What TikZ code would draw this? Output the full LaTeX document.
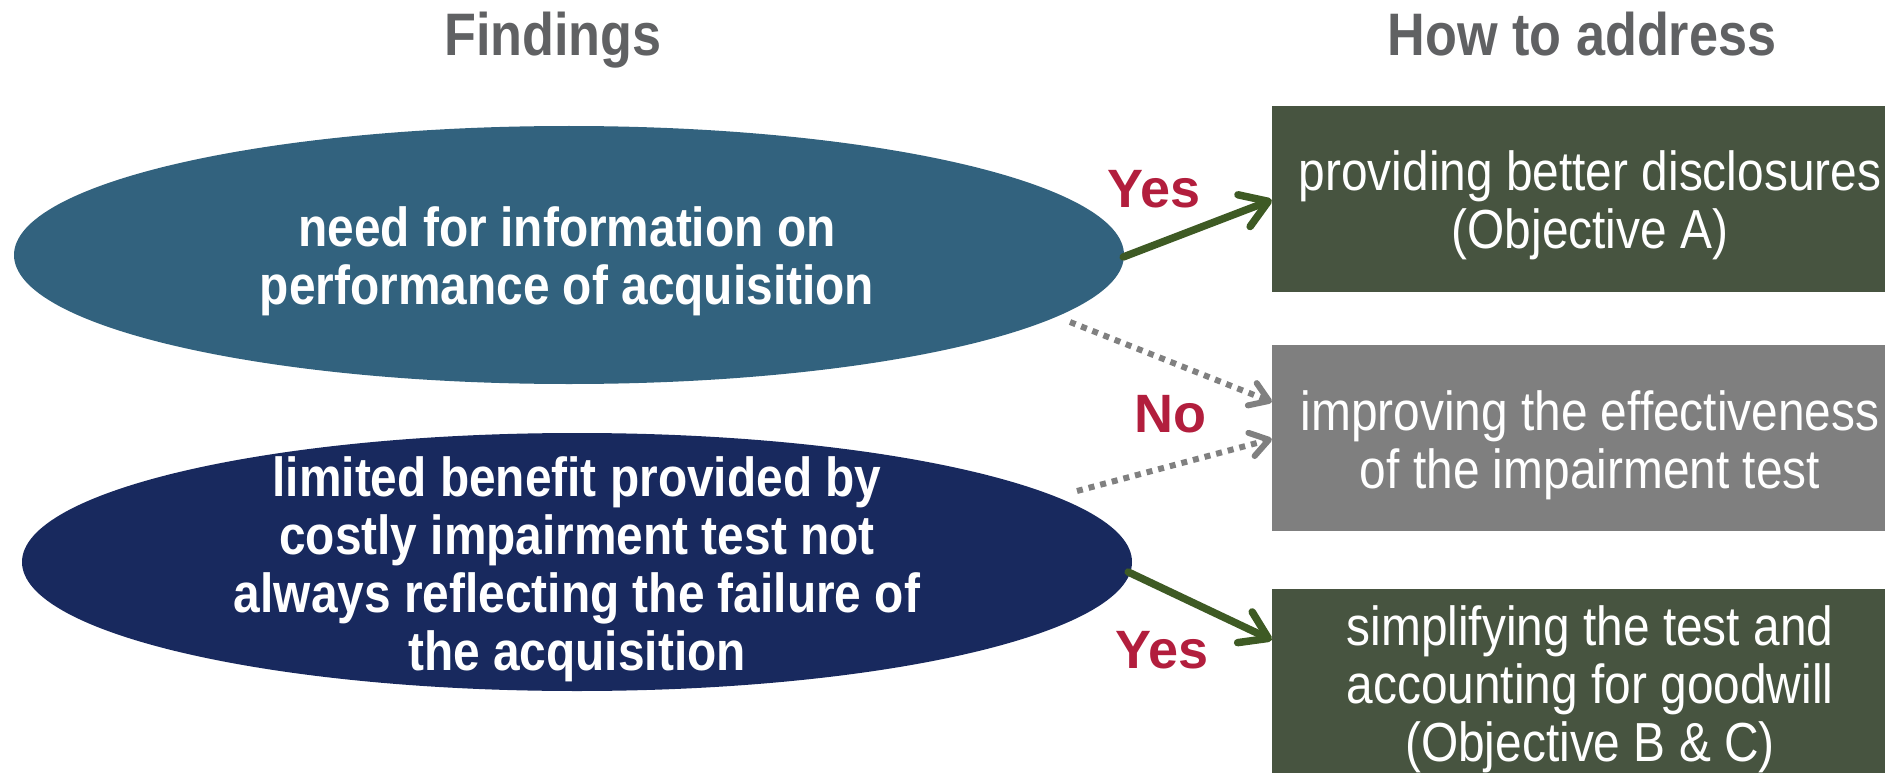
\documentclass[tikz,border=0pt]{standalone}
\usepackage{fontspec}
\setmainfont[FakeStretch=0.87]{Liberation Sans}
\newfontfamily\labfont{Liberation Sans}
\usetikzlibrary{shapes.geometric,arrows.meta,calc}
\definecolor{ellA}{HTML}{32627E}
\definecolor{ellB}{HTML}{18295E}
\definecolor{boxG}{HTML}{475440}
\definecolor{boxY}{HTML}{7F7F7F}
\definecolor{arrG}{HTML}{3E5A24}
\definecolor{arrY}{HTML}{808080}
\definecolor{labR}{HTML}{B21E3D}
\definecolor{headY}{HTML}{606163}
\begin{document}
\begin{tikzpicture}[x=1pt,y=-1pt,
  ellnode/.style={ellipse, inner sep=0pt, minimum width=1110pt, minimum height=258pt, draw=none},
  boxnode/.style={rectangle, inner sep=0pt, minimum width=636pt, minimum height=186pt},
  btext/.style={text=white, align=center, font=\fontsize{55}{58}\selectfont},
  etext/.style={text=white, align=center, font=\fontsize{55}{58}\selectfont\bfseries},
  headtext/.style={text=headY, anchor=base, font=\fontsize{60}{72}\selectfont\bfseries},
  labtext/.style={text=labR, anchor=base, font=\labfont\fontsize{54}{60}\selectfont\bfseries},
  garrow/.style={draw=arrG, line width=7.5pt, line cap=round,
    -{Straight Barb[length=26pt,width=34pt,line cap=round,line join=round]}},
  darrow/.style={draw=arrY, line width=6pt, dash pattern=on 6pt off 6pt,
    -{Straight Barb[length=18pt,width=24pt,line cap=round,line join=round]}}
]
\useasboundingbox (0,0) rectangle (1885,773);

% headers
\node[headtext] (h1) at (553,56) {Findings};
\node[headtext] (h2) at (1582,56) {How to address};

% ellipses
\node[ellnode, fill=ellA] (e1) at (569,255) {};
\node[ellnode, fill=ellB] (e2) at (577,562) {};
\node[etext] (t1) at (567,261) {need for information on\\performance of acquisition};
\node[etext] (t2) at (577,569) {limited benefit provided by\\costly impairment test not\\always reflecting the failure of\\the acquisition};

% boxes
\node[boxnode, fill=boxG] (b1) at (1590,199) {};
\node[boxnode, fill=boxY] (b2) at (1590,438) {};
\node[boxnode, fill=boxG] (b3) at (1590,682) {};
\node[btext] (bt1) at ($(b1)+(0,6)$) {providing better disclosures\\(Objective A)};
\node[btext] (bt2) at ($(b2)+(0,7)$) {improving the effectiveness\\of the impairment test};
\node[btext] (bt3) at ($(b3)+(0,7)$) {simplifying the test and\\accounting for goodwill\\(Objective B \& C)};

% labels
\node[labtext] (y1) at (1154,207) {Yes};
\node[labtext] (n1) at (1170,432) {No};
\node[labtext] (y2) at (1162,668) {Yes};

% connectors
\coordinate (d1) at (1070,322);
\coordinate (d2) at (1077,491);
\draw[garrow] ($(e1.east)+(-1,2)$) -- ($(b1.west)+(0,1)$);
\draw[garrow] ($(e2.east)+(-4,10)$) -- ($(b3.west)+(0,-42)$);
\draw[darrow] (d1) -- ($(b2.west)+(0,-36)$);
\draw[darrow] (d2) -- ($(b2.west)+(0,1)$);
\end{tikzpicture}
\end{document}
